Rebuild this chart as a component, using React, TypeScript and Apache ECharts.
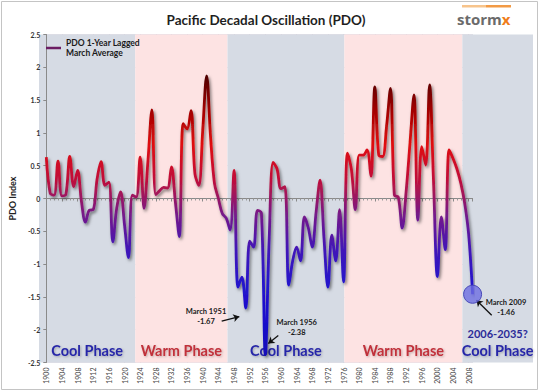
import React, { useEffect, useRef } from "react";
import * as echarts from "echarts";

// ---------- data ----------
const startYear = 1900;
// PDO 1-year lagged March average, 1900..2009
const pdoValues = [
  0.63, 0.08, 0.05, 0.57, 0.04, 0.06, 0.64, 0.18, 0.43, -0.05, // 1900-1909
  -0.36, -0.18, -0.17, 0.3, 0.56, 0.2, 0.25, -0.66, -0.15, 0.1, // 1910-1919
  -0.4, -0.9, 0.05, 0.02, 0.63, -0.15, 0.58, 1.35, 0.06, 0.12, // 1920-1929
  0.17, 0.16, 0.48, -0.05, -0.58, 1.14, 1.06, 1.34, 0.38, 0.2, // 1930-1939
  1.04, 1.87, 0.94, 0.23, 0.0, -0.23, -0.3, -0.48, 0.43, -1.35, // 1940-1949
  -1.2, -1.67, -0.65, -0.74, -0.18, -0.22, -2.38, -0.6, 0.55, 0.45, // 1950-1959
  0.15, 0.18, -1.32, -0.95, -0.74, -0.95, -0.28, -0.45, -0.74, -0.2, // 1960-1969
  0.28, -0.6, -1.35, -0.56, -0.95, -0.17, -1.27, 0.69, 0.45, -0.17, // 1970-1979
  0.66, 0.66, 0.74, 0.34, 1.7, 0.66, 0.64, 1.1, 1.68, 0.05, // 1980-1989
  0.02, -0.45, 0.1, 0.85, 1.58, -0.33, 0.79, 0.51, 1.73, 0.28, // 1990-1999
  -1.19, -0.28, -0.78, 0.74, 0.61, 0.45, 0.23, -0.08, -0.55, -1.46, // 2000-2009
];
const seriesName = "PDO 1-Year Lagged\nMarch Average";

const phaseNames = ["Cool Phase", "Warm Phase", "Cool Phase", "Warm Phase", "Cool Phase"];
const phaseKinds = ["cool", "warm", "cool", "warm", "cool"];
const phaseStarts = [1899.5, 1923.8, 1947.1, 1976.6, 2006.4];
const phaseEnds = [1923.8, 1947.1, 1976.6, 2006.4, 2024.24];
const futurePhaseLabel = "2006-2035?";

const noteTexts = ["March 1951\n-1.67", "March 1956\n-2.38", "March 2009\n-1.46"];
const noteAt = [
  [1941.67, -1.8],
  [1964.57, -1.97],
  [2017.42, -1.66],
];
const arrowFrom = [
  [1945.63, -1.87],
  [1959.92, -2.09],
  [2013.81, -1.78],
];
const arrowTo = [
  [1950.08, -1.8],
  [1957.4, -2.21],
  [2009.97, -1.55],
];
const highlightYear = 2009;
const highlightValue = -1.46;

const FONT = 'Lato, "Open Sans", sans-serif';

export default function App() {
  const ref = useRef<HTMLDivElement>(null);

  useEffect(() => {
    document.body.style.margin = "0";
    if (!ref.current) return;
    const chart = echarts.init(ref.current, undefined, { renderer: "svg" });

    const pdoData = pdoValues.map((v, i) => [startYear + i, v]);
    const coolColor = "#d6dbe4";
    const warmColor = "#fde3e3";

    const bandData = phaseNames.map((name, i) => {
      const cool = phaseKinds[i] === "cool";
      const isLast = i === phaseNames.length - 1;
      return [
        {
          xAxis: phaseStarts[i],
          itemStyle: { color: cool ? coolColor : warmColor },
          label: {
            show: true,
            position: "insideBottom",
            distance: 3,
            formatter: isLast ? `{s|${futurePhaseLabel}}\n{c|${name}}` : `{c|${name}}`,
            rich: {
              s: { fontSize: 11, fontWeight: "bold", color: "#2b2b98", fontFamily: FONT, lineHeight: 15, align: "center" },
              c: {
                fontSize: 14.5,
                fontWeight: "bold",
                fontFamily: FONT,
                color: cool ? "#2828a8" : "#c0303a",
                lineHeight: 19,
                align: "center",
                textShadowColor: "rgba(0,0,0,0.25)",
                textShadowBlur: 2,
                textShadowOffsetX: 1,
                textShadowOffsetY: 1,
              },
            },
          },
        },
        { xAxis: phaseEnds[i] },
      ];
    });

    const option: any = {
      animation: false,
      backgroundColor: "#ffffff",
      textStyle: { fontFamily: FONT },
      title: {
        text: "Pacific Decadal Oscillation (PDO)",
        left: 261,
        top: 8,
        textAlign: "center",
        textStyle: { fontSize: 13.5, fontWeight: "bold", color: "#1f1f1f", fontFamily: FONT },
      },
      legend: {
        left: 46,
        top: 33,
        padding: 0,
        itemWidth: 15,
        itemHeight: 2.5,
        itemGap: 2,
        data: [{ name: seriesName, icon: "rect", itemStyle: { color: "#6b1d63" } }],
        textStyle: {
          fontSize: 8.5,
          fontWeight: "bold",
          color: "#1a1a1a",
          fontFamily: FONT,
          lineHeight: 10,
          padding: [10, 0, 0, 0],
        },
      },
      grid: [
        { left: 41, right: 67.4, top: 34.5, bottom: 29.5 },
        { left: 39, right: 7, top: 34.5, bottom: 29.5 },
      ],
      xAxis: [
        {
          type: "value",
          gridIndex: 0,
          min: 1900,
          max: 2009,
          interval: 4,
          z: 1,
          axisLine: { show: true, lineStyle: { color: "#8a8a8a" } },
          axisTick: { show: true, length: 3, lineStyle: { color: "#8a8a8a" } },
          minorTick: { show: true, splitNumber: 4, length: 2, lineStyle: { color: "#9a9a9a" } },
          axisLabel: {
            rotate: 90,
            fontSize: 7,
            color: "#444",
            margin: 5,
            formatter: (v: number) => (v % 4 === 0 ? String(v) : ""),
          },
          splitLine: { show: true, lineStyle: { color: "rgba(150,140,165,0.28)", width: 1 } },
        },
        { type: "value", gridIndex: 1, min: 1899.5, max: 2024.24, show: false },
      ],
      yAxis: [
        {
          type: "value",
          gridIndex: 0,
          min: -2.5,
          max: 2.5,
          interval: 0.5,
          z: 1,
          name: "PDO Index",
          nameLocation: "middle",
          nameGap: 25,
          nameTextStyle: { fontSize: 9, fontWeight: "bold", color: "#222", fontFamily: FONT },
          axisLine: { show: true, lineStyle: { color: "#8a8a8a" } },
          axisTick: { show: true, length: 3, lineStyle: { color: "#8a8a8a" } },
          axisLabel: { fontSize: 7, fontWeight: "bold", color: "#333", margin: 6 },
          splitLine: { show: true, lineStyle: { color: "rgba(150,140,165,0.28)", width: 1 } },
        },
        { type: "value", gridIndex: 1, min: -2.5, max: 2.5, show: false },
      ],
      visualMap: {
        show: false,
        type: "continuous",
        seriesIndex: 2,
        dimension: 1,
        min: -2.4,
        max: 1.9,
        inRange: {
          color: ["#1208b8", "#1a10cc", "#2412cc", "#4015b8", "#751a8a", "#c0103a", "#e01010", "#a00000", "#4a0000"],
        },
      },
      series: [
        {
          type: "line",
          name: "bands",
          xAxisIndex: 1,
          yAxisIndex: 1,
          data: [],
          z: 0,
          silent: true,
          markArea: { silent: true, data: bandData },
        },
        {
          type: "scatter",
          name: "notes",
          xAxisIndex: 1,
          yAxisIndex: 1,
          data: [],
          z: 6,
          silent: true,
          markLine: {
            silent: true,
            symbol: ["none", "arrow"],
            symbolSize: 6,
            label: { show: false },
            lineStyle: { color: "#111", width: 1.3, type: "solid" },
            data: arrowFrom.map((f, i) => [{ coord: f }, { coord: arrowTo[i] }]),
          },
          markPoint: {
            silent: true,
            symbol: "circle",
            symbolSize: 1,
            itemStyle: { color: "rgba(0,0,0,0)" },
            label: {
              show: true,
              position: "inside",
              fontSize: 7.5,
              fontWeight: "bold",
              color: "#1a1a1a",
              lineHeight: 10,
              align: "center",
              fontFamily: FONT,
            },
            data: noteTexts.map((t, i) => ({ coord: noteAt[i], value: t, label: { formatter: t } })),
          },
        },
        {
          type: "line",
          name: seriesName,
          xAxisIndex: 0,
          yAxisIndex: 0,
          data: pdoData,
          smooth: 0.35,
          showSymbol: false,
          symbol: "none",
          z: 4,
          lineStyle: {
            width: 2.8,
            shadowColor: "rgba(0,0,0,0.5)",
            shadowBlur: 3,
            shadowOffsetX: 1.5,
            shadowOffsetY: 2,
          },
          markPoint: {
            silent: true,
            symbol: "circle",
            symbolSize: 18,
            label: { show: false },
            itemStyle: { color: "rgba(110,110,225,0.8)", borderColor: "#4a4ab8", borderWidth: 1 },
            data: [{ coord: [highlightYear, highlightValue] }],
          },
        },
      ],
      graphic: [
        {
          type: "rect",
          shape: { x: 1.5, y: 1.5, width: 536, height: 388 },
          style: { fill: "none", stroke: "#c4c4c4", lineWidth: 1 },
          silent: true,
        },
        {
          type: "rect",
          shape: { x: 462, y: 5, width: 24, height: 2.5 },
          style: { fill: "#f7c48c" },
          silent: true,
        },
        {
          type: "rect",
          shape: { x: 486, y: 5, width: 25, height: 2.5 },
          style: { fill: "#f29a45" },
          silent: true,
        },
        {
          type: "text",
          x: 457,
          y: 11,
          silent: true,
          style: {
            text: "{a|storm}{b|x}",
            fontSize: 15,
            fontWeight: "bold",
            fontFamily: '"Open Sans", sans-serif',
            fill: "#6b6b6b",
            rich: {
              a: { fill: "#6b6b6b", fontSize: 15, fontWeight: "bold", fontFamily: '"Open Sans", sans-serif' },
              b: { fill: "#f07d1a", fontSize: 15, fontWeight: "bold", fontFamily: '"Open Sans", sans-serif' },
            },
          },
        },
      ],
    };

    chart.setOption(option);
    return () => chart.dispose();
  }, []);

  return (
    <div
      ref={ref}
      style={{ position: "absolute", left: 0, top: 0, width: 540, height: 392 }}
    />
  );
}
